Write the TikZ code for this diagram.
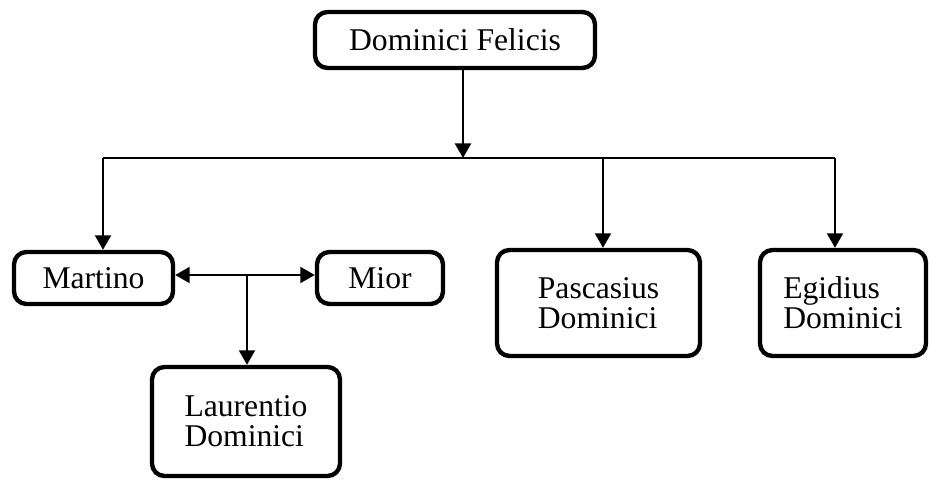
\documentclass[tikz,border=0pt]{standalone}
\usepackage{fontspec}
\setmainfont{Liberation Serif}
\usepackage{tikz}
\usetikzlibrary{arrows.meta}

\begin{document}
\begin{tikzpicture}[>={Triangle[length=0.29cm, width=0.32cm]},
  person/.style={draw, line width=2.5pt, rounded corners=0.25cm, align=left,
    inner sep=0pt, font=\fontsize{18}{17}\selectfont},
  link/.style={line width=1.2pt}]
  \useasboundingbox (0,0) rectangle (18.58,9.62);
  \node[person, minimum width=5.6cm, minimum height=1.12cm] (felicis) at (9.10,8.82) {Dominici Felicis};
  \node[person, minimum width=3.18cm, minimum height=1.04cm] (martino) at (1.87,4.06) {Martino};
  \node[person, minimum width=2.52cm, minimum height=1.04cm] (mior) at (7.60,4.06) {Mior};
  \node[person, minimum width=3.76cm, minimum height=2.18cm] (laurentio) at (4.92,1.19) {Laurentio\\Dominici};
  \node[person, minimum width=4.06cm, minimum height=2.12cm] (pascasius) at (11.97,3.56) {Pascasius\\Dominici};
  \node[person, minimum width=3.32cm, minimum height=2.12cm] (egidius) at (16.86,3.56) {Egidius\\Dominici};
  \coordinate (top) at (9.26,6.46);
  \coordinate (barL) at (2.06,6.46);
  \coordinate (barP) at (12.06,6.46);
  \coordinate (barR) at (16.70,6.46);
  \coordinate (mid) at (4.94,4.12);
  \draw[line width=0.8pt] (barL) -- (barR);
  \draw[->, link] (felicis.south -| top) -- (top);
  \draw[->, link] (barL) -- (barL |- martino.north);
  \draw[->, link] (barP) -- (barP |- pascasius.north);
  \draw[->, link] (barR) -- (barR |- egidius.north);
  \draw[<->, link] (martino.east |- mid) -- (mior.west |- mid);
  \draw[->, link] (mid) -- (mid |- laurentio.north);
\end{tikzpicture}
\end{document}
